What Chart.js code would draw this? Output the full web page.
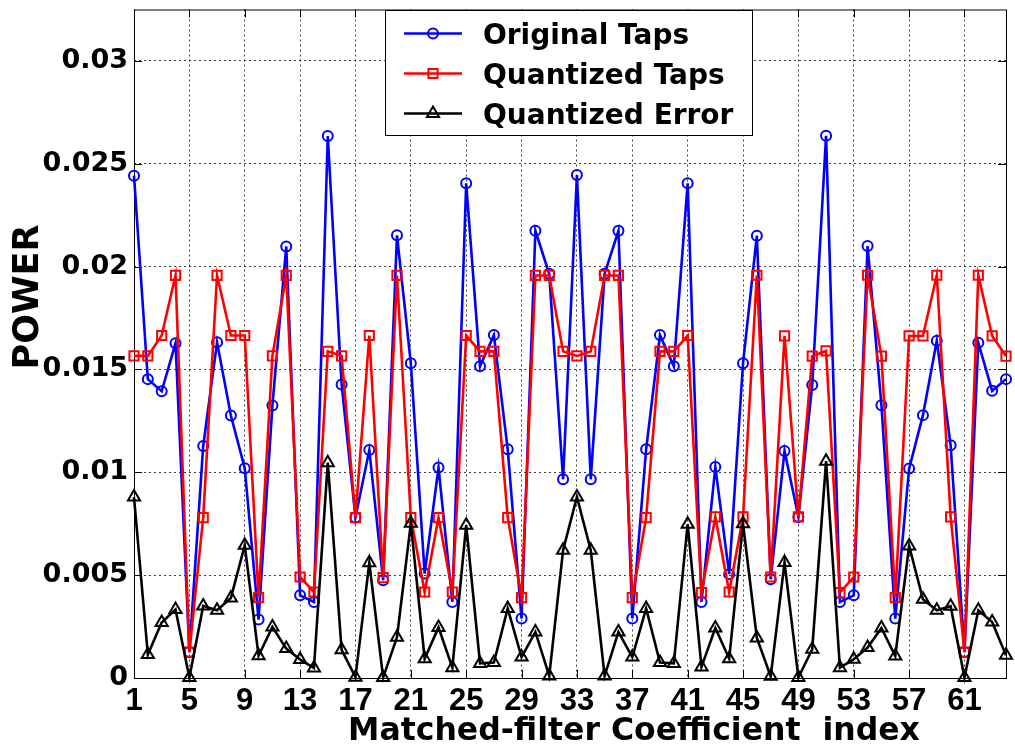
<!DOCTYPE html>
<html>
<head>
<meta charset="utf-8">
<script src="https://cdn.jsdelivr.net/npm/chart.js@4.4.1/dist/chart.umd.min.js"></script>
<style>
html,body{margin:0;padding:0;background:#ffffff;}
#wrap{width:1015px;height:747px;position:relative;}
</style>
</head>
<body>
<div id="wrap"><canvas id="c" width="1015" height="747"></canvas></div>
<script>
const coefficientIndex = [1,2,3,4,5,6,7,8,9,10,11,12,13,14,15,16,17,18,19,20,21,22,23,24,25,26,27,28,29,30,31,32,33,34,35,36,37,38,39,40,41,42,43,44,45,46,47,48,49,50,51,52,53,54,55,56,57,58,59,60,61,62,63,64];

const originalTaps = [0.02442,0.01453,0.01394,0.01628,0.00126,0.01128,0.01632,0.01276,0.01020,0.00284,
  0.01325,0.02098,0.00402,0.00370,0.02635,0.01427,0.00780,0.01108,0.00475,0.02152,
  0.01530,0.00508,0.01023,0.00370,0.02405,0.01516,0.01667,0.01112,0.00289,0.02174,
  0.01965,0.00966,0.02445,0.00966,0.01965,0.02174,0.00289,0.01112,0.01667,0.01516,
  0.02405,0.00370,0.01026,0.00505,0.01530,0.02150,0.00480,0.01104,0.00783,0.01424,
  0.02636,0.00370,0.00402,0.02100,0.01326,0.00289,0.01018,0.01278,0.01639,0.01132,
  0.00126,0.01630,0.01396,0.01453];

const quantizedTaps = [0.01566,0.01566,0.01665,0.01957,0.00126,0.00780,0.01957,0.01665,0.01665,0.00391,
  0.01566,0.01957,0.00491,0.00418,0.01588,0.01566,0.00780,0.01665,0.00488,0.01957,
  0.00780,0.00418,0.00780,0.00418,0.01665,0.01588,0.01588,0.00780,0.00391,0.01957,
  0.01957,0.01588,0.01566,0.01588,0.01957,0.01957,0.00391,0.00780,0.01588,0.01588,
  0.01665,0.00415,0.00783,0.00418,0.00783,0.01958,0.00491,0.01663,0.00783,0.01565,
  0.01590,0.00415,0.00491,0.01958,0.01565,0.00391,0.01663,0.01663,0.01958,0.00783,
  0.00126,0.01958,0.01663,0.01565];

const quantizedError = [0.00880,0.00114,0.00270,0.00333,0.00002,0.00350,0.00329,0.00389,0.00645,0.00108,
  0.00248,0.00143,0.00090,0.00049,0.01047,0.00137,0.00004,0.00560,0.00002,0.00198,
  0.00752,0.00094,0.00246,0.00050,0.00743,0.00071,0.00075,0.00338,0.00102,0.00224,
  0.00010,0.00621,0.00880,0.00621,0.00010,0.00224,0.00102,0.00338,0.00075,0.00071,
  0.00748,0.00054,0.00243,0.00094,0.00750,0.00195,0.00008,0.00561,0.00002,0.00140,
  0.01054,0.00050,0.00091,0.00148,0.00243,0.00107,0.00642,0.00383,0.00329,0.00349,
  0.00002,0.00329,0.00272,0.00110];

const seriesNames = ['Original Taps','Quantized Taps','Quantized Error'];
const xTicks = [1,5,9,13,17,21,25,29,33,37,41,45,49,53,57,61];
const xTickLabels = ['1','5','9','13','17','21','25','29','33','37','41','45','49','53','57','61'];
const yTicks = [0,0.005,0.01,0.015,0.02,0.025,0.03];
const yTickLabels = ['0','0.005','0.01','0.015','0.02','0.025','0.03'];
const xTitle = 'Matched-filter Coefficient  index';
const yTitle = 'POWER';

const toPoints = arr => coefficientIndex.map((x, i) => ({x: x, y: arr[i]}));

function markerPath(ctx, style, r, x, y) {
  ctx.beginPath();
  if (style === 'circle') {
    ctx.arc(x, y, r, 0, Math.PI * 2);
  } else if (style === 'rect') {
    const s = r * Math.SQRT1_2;
    ctx.rect(x - s, y - s, 2 * s, 2 * s);
  } else if (style === 'triangle') {
    ctx.moveTo(x, y - r);
    ctx.lineTo(x + r * Math.sin(2 * Math.PI / 3), y - r * Math.cos(2 * Math.PI / 3));
    ctx.lineTo(x + r * Math.sin(4 * Math.PI / 3), y - r * Math.cos(4 * Math.PI / 3));
    ctx.closePath();
  }
}

const framePlugin = {
  id: 'frame',
  beforeDatasetsDraw(chart) {
    const {ctx, chartArea: a, scales} = chart;
    ctx.save();
    ctx.strokeStyle = '#000';
    ctx.lineWidth = 1;
    ctx.setLineDash([]);
    ctx.strokeRect(a.left + 0.5, a.top + 0.5, a.right - a.left, a.bottom - a.top);
    const tl = 8;
    ctx.beginPath();
    xTicks.forEach(v => {
      const px = Math.round(scales.x.getPixelForValue(v)) + 0.5;
      ctx.moveTo(px, a.bottom); ctx.lineTo(px, a.bottom - tl);
      ctx.moveTo(px, a.top); ctx.lineTo(px, a.top + tl);
    });
    yTicks.forEach(v => {
      const py = Math.round(scales.y.getPixelForValue(v)) + 0.5;
      ctx.moveTo(a.left, py); ctx.lineTo(a.left + tl, py);
      ctx.moveTo(a.right, py); ctx.lineTo(a.right - tl, py);
    });
    ctx.stroke();
    ctx.restore();
  }
};

const overlayPlugin = {
  id: 'overlay',
  afterDraw(chart) {
    const {ctx, chartArea: a} = chart;
    ctx.save();
    // axis titles
    ctx.fillStyle = '#000';
    ctx.font = 'bold 31.5px "DejaVu Sans"';
    ctx.textAlign = 'center';
    ctx.textBaseline = 'alphabetic';
    ctx.fillText(xTitle, 634, 740);
    ctx.save();
    ctx.translate(38, 297);
    ctx.rotate(-Math.PI / 2);
    ctx.font = 'bold 35px "DejaVu Sans"';
    ctx.fillText(yTitle, 0, 0);
    ctx.restore();

    // legend box
    const bx = Math.round(a.left) + 251, by = Math.round(a.top), bw = 367, bh = 125;
    ctx.fillStyle = '#fff';
    ctx.fillRect(bx, by, bw, bh);
    ctx.strokeStyle = '#000';
    ctx.lineWidth = 1;
    ctx.strokeRect(bx + 0.5, by + 0.5, bw, bh);
    chart.data.datasets.forEach((ds, i) => {
      const y = by + 23.5 + i * 40;
      ctx.strokeStyle = ds.borderColor;
      ctx.lineWidth = ds.borderWidth;
      ctx.beginPath();
      ctx.moveTo(bx + 19, y);
      ctx.lineTo(bx + 77, y);
      ctx.stroke();
      ctx.lineWidth = ds.pointBorderWidth;
      markerPath(ctx, ds.pointStyle, ds.pointRadius, bx + 48, y);
      ctx.stroke();
      ctx.fillStyle = '#000';
      ctx.font = 'bold 28px "DejaVu Sans"';
      ctx.textAlign = 'left';
      ctx.textBaseline = 'alphabetic';
      ctx.fillText(ds.label, bx + 98, y + 10.5);
    });
    ctx.restore();
  }
};

const gridStyle = {color: 'rgba(0,0,0,0.75)', lineWidth: 1, drawTicks: false};

new Chart(document.getElementById('c').getContext('2d'), {
  type: 'line',
  data: {
    datasets: [
      {label: seriesNames[0], data: toPoints(originalTaps), borderColor: '#0000ff', backgroundColor: 'rgba(0,0,0,0)',
       borderWidth: 2.6, pointStyle: 'circle', pointRadius: 5, pointBorderWidth: 2, pointBorderColor: '#0000ff',
       pointBackgroundColor: 'rgba(0,0,0,0)', tension: 0, order: 3, clip: false},
      {label: seriesNames[1], data: toPoints(quantizedTaps), borderColor: '#ff0000', backgroundColor: 'rgba(0,0,0,0)',
       borderWidth: 2.6, pointStyle: 'rect', pointRadius: 6.5, pointBorderWidth: 2, pointBorderColor: '#ff0000',
       pointBackgroundColor: 'rgba(0,0,0,0)', tension: 0, order: 2, clip: false},
      {label: seriesNames[2], data: toPoints(quantizedError), borderColor: '#000000', backgroundColor: 'rgba(0,0,0,0)',
       borderWidth: 2.6, pointStyle: 'triangle', pointRadius: 7, pointBorderWidth: 2, pointBorderColor: '#000000',
       pointBackgroundColor: 'rgba(0,0,0,0)', tension: 0, order: 1, clip: false}
    ]
  },
  options: {
    responsive: false,
    animation: false,
    devicePixelRatio: 1,
    layout: {padding: {top: 9.5, right: 2, left: 0, bottom: 0}},
    plugins: {legend: {display: false}, tooltip: {enabled: false}},
    elements: {line: {borderJoinStyle: 'miter'}},
    scales: {
      x: {
        type: 'linear', min: 1, max: 64,
        afterBuildTicks: s => { s.ticks = xTicks.map(v => ({value: v})); },
        afterFit: s => { s.height = 69; s.paddingLeft = 0; s.paddingRight = 0; },
        ticks: {
          callback: v => xTickLabels[xTicks.indexOf(v)],
          font: {family: '"Liberation Sans", Arial, sans-serif', weight: 'bold', size: 31},
          color: '#000', padding: 5, maxRotation: 0, minRotation: 0, autoSkip: false
        },
        grid: gridStyle,
        border: {display: false, dash: [2, 3]}
      },
      y: {
        type: 'linear', min: 0, max: 0.0325,
        afterBuildTicks: s => { s.ticks = yTicks.map(v => ({value: v})); },
        afterFit: s => { s.width = 134; s.paddingTop = 0; s.paddingBottom = 0; },
        ticks: {
          callback: v => yTickLabels[yTicks.indexOf(v)],
          font: {family: '"DejaVu Sans", sans-serif', weight: 'bold', size: 27},
          color: '#000', padding: 6, autoSkip: false
        },
        grid: gridStyle,
        border: {display: false, dash: [2, 3]}
      }
    }
  },
  plugins: [framePlugin, overlayPlugin]
});
</script>
</body>
</html>
